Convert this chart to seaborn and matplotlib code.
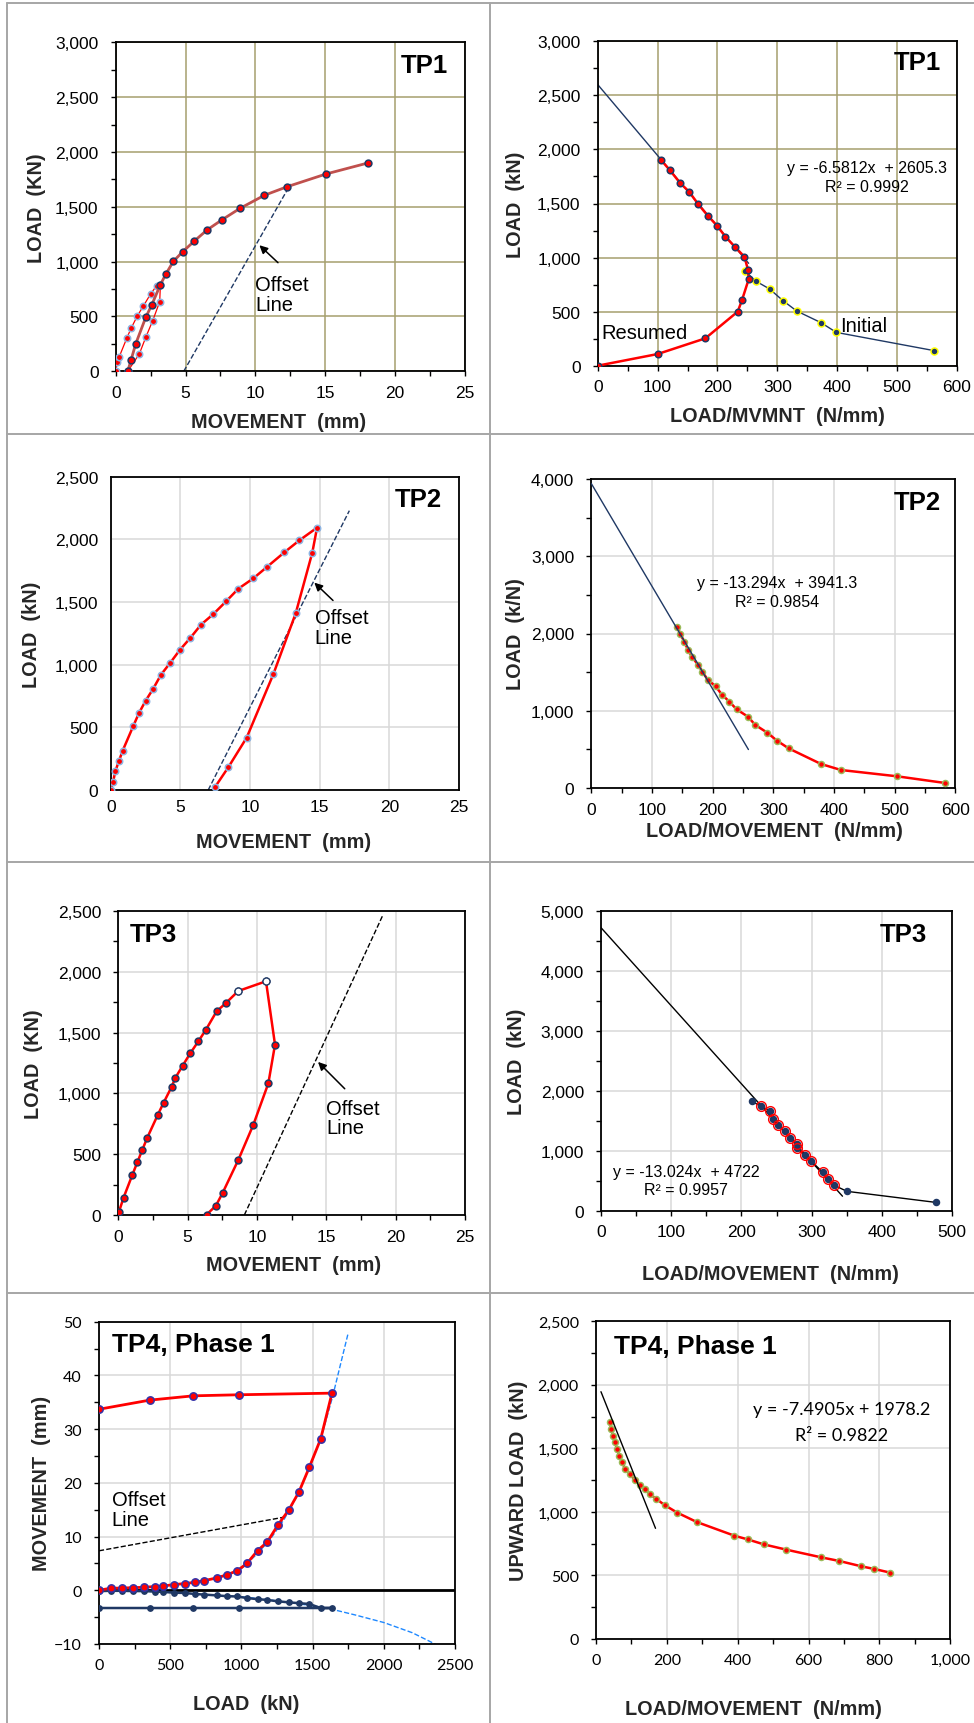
import matplotlib
matplotlib.use("Agg")
import matplotlib.pyplot as plt
import seaborn as sns
from matplotlib.lines import Line2D
from matplotlib.ticker import MultipleLocator, StrMethodFormatter

sns.set_theme(style="white")
plt.rcParams["font.family"] = ["Liberation Sans", "DejaVu Sans"]
plt.rcParams["text.color"] = "black"

# ---------------- data ----------------
# TP1, load vs movement
tp1_loop_mov = [0, 0.12, 0.24, 0.79, 1.1, 1.55, 1.98, 2.5, 2.93, 3.2, 3.15, 2.65, 2.17, 1.69, 0.86]
tp1_loop_load = [0, 82, 128, 301, 392, 505, 596, 705, 781, 790, 635, 462, 316, 158, 0]
tp1_main_mov = [0.86, 1.1, 1.43, 2.15, 2.58, 3.2, 3.58, 4.13, 4.8, 5.63, 6.54, 7.59, 8.9,
                10.64, 12.29, 15.05, 18.06]
tp1_main_load = [0, 103, 249, 492, 605, 790, 884, 1003, 1091, 1188, 1289, 1380, 1486,
                 1605, 1684, 1799, 1900]
tp1_offset_mov = [4.87, 12.52]
tp1_offset_load = [0, 1708]

# TP1, load vs load/movement
tp1_res_lm = [0, 100.2, 179.8, 233.8, 241, 252.1, 251, 244.9, 229.9, 213.2, 199.3, 183.7,
              168.1, 152.5, 138, 120.2, 105.7]
tp1_res_load = [0, 108, 253, 500, 607, 799, 888, 1008, 1095, 1193, 1295, 1388, 1492, 1610,
                1687, 1810, 1903]
tp1_ini_lm = [245.4, 263.8, 287.2, 309.5, 332.3, 372.9, 398.5, 562.1]
tp1_ini_load = [879, 783, 709, 601, 506, 398, 308, 139]
tp1_fit_lm = [0, 252]
tp1_fit_load = [2600, 947]

# TP2, load vs movement
tp2_mov = [0, 0.17, 0.33, 0.6, 0.86, 1.63, 2.03, 2.51, 3.04, 3.61, 4.28, 4.98, 5.69, 6.48,
           7.37, 8.28, 9.16, 10.24, 11.24, 12.46, 13.54, 14.81, 14.47, 13.28, 11.67, 9.76,
           8.44, 7.51]
tp2_load = [0, 64, 149, 234, 314, 513, 614, 713, 806, 920, 1016, 1120, 1210, 1319, 1404,
            1505, 1606, 1689, 1782, 1896, 1992, 2093, 1894, 1410, 923, 418, 181, 27]
tp2_offset_mov = [7.0, 17.13]
tp2_offset_load = [0, 2229]

# TP2, load vs load/movement
tp2_lm = [141.8, 146.7, 153.3, 159.3, 166.5, 175.8, 183, 191.8, 204.9, 215.4, 227.5, 239.6,
          258.2, 270.3, 290.1, 306, 325.3, 378.6, 411.5, 504.4, 583]
tp2_lm_load = [2088, 1993, 1894, 1791, 1691, 1597, 1506, 1402, 1316, 1208, 1118, 1018, 923,
               816, 716, 613, 513, 311, 233, 151, 65]
tp2_fit_lm = [0, 259]
tp2_fit_load = [3941, 498]

# TP3, load vs movement
tp3_mov = [0.05, 0.38, 1.01, 1.37, 1.73, 2.09, 2.84, 3.27, 3.85, 4.11, 4.64, 5.19, 5.77,
           6.32, 7.09, 7.76, 8.65, 10.65, 11.3, 10.82, 9.74, 8.65, 7.52, 7.04, 6.37]
tp3_load = [27, 143, 329, 433, 535, 636, 822, 924, 1055, 1127, 1228, 1330, 1428, 1524, 1675,
            1743, 1842, 1922, 1401, 1083, 743, 452, 181, 77, 3]
tp3_open_mov = [8.65, 10.65]
tp3_open_load = [1842, 1922]
tp3_offset_mov = [9.09, 19.06]
tp3_offset_load = [0, 2462]

# TP3, load vs load/movement
tp3_lm = [215.1, 227.9, 240.3, 244.5, 251.7, 261.6, 269.7, 279.7, 279.2, 290.6, 299.6, 316.2,
          322.9, 331.4, 350.4, 476.7]
tp3_lm_load = [1824, 1741, 1669, 1529, 1435, 1324, 1218, 1112, 1040, 929, 823, 640, 528, 428,
               323, 139]
tp3_ring_lm = tp3_lm[1:14]
tp3_ring_load = tp3_lm_load[1:14]
tp3_fit_lm = [0, 344]
tp3_fit_load = [4722, 242]

# TP4 phase 1, movement vs load
tp4_load = [0, 84, 159, 239, 316, 393, 452, 524, 602, 677, 740, 826, 901, 971, 1039, 1114,
            1182, 1255, 1334, 1404, 1477, 1557, 1636, 985, 662, 356, 0]
tp4_top_mov = [0, 0.4, 0.4, 0.5, 0.55, 0.7, 0.8, 1.05, 1.25, 1.5, 1.8, 2.3, 2.9, 3.65, 5.0,
               7.4, 9.0, 12.1, 15.0, 18.3, 22.9, 28.2, 36.7, 36.4, 36.2, 35.4, 33.7]
tp4_toe_mov = [-0.15, -0.1, -0.1, -0.15, -0.15, -0.25, -0.3, -0.45, -0.5, -0.7, -0.8, -0.95,
               -1.1, -1.15, -1.45, -1.65, -1.8, -2.05, -2.25, -2.4, -2.55, -3.3, -3.3, -3.3,
               -3.3, -3.3, -3.3]
tp4_up_fit_load = [900, 1000, 1100, 1200, 1300, 1400, 1480, 1560, 1640, 1700, 1751]
tp4_up_fit_mov = [2.8, 4.0, 6.5, 9.4, 13.2, 18.0, 23.0, 28.4, 36.0, 42.5, 48.0]
tp4_dn_fit_load = [800, 1000, 1200, 1400, 1600, 1800, 2000, 2200, 2390]
tp4_dn_fit_mov = [-0.9, -1.2, -1.8, -2.5, -3.3, -4.6, -6.0, -7.9, -10.4]
tp4_offset_load = [0, 1318]
tp4_offset_mov = [7.35, 13.7]

# TP4 phase 1, upward load vs load/movement
tp4_lm = [38.6, 43.3, 48, 53.6, 59.3, 65.9, 73.4, 82.8, 95, 109, 125, 137.3, 151.5, 170.3,
          194.7, 229.5, 284.1, 390.4, 428, 473.2, 537.2, 635, 686.7, 748.8, 785.5, 830.7]
tp4_lm_load = [1705, 1653, 1600, 1548, 1495, 1443, 1390, 1338, 1299, 1254, 1212, 1178, 1141,
               1102, 1052, 994, 921, 813, 784, 745, 703, 643, 614, 572, 551, 522]
tp4_fit_lm = [14, 168]
tp4_fit_load = [1946, 871]

# ---------------- layout ----------------
W, H = 974, 1724
fig = plt.figure(figsize=(W / 100, H / 100), dpi=100)
fig.patch.set_facecolor("white")

RED = "#FF0000"
NAVY = "#1F3864"
LBLUE = "#8DB4E2"
GREEN = "#9BBB59"
OLIVE = "#A69F6E"
LGRAY = "#D9D9D9"


def px_axes(l, t, r, b):
    return fig.add_axes([l / W, 1 - b / H, (r - l) / W, (b - t) / H])


def style(ax, xlim, ylim, xstep, xminor, ystep, yminor, grid, xcomma=False, ycomma=True,
          ticks=True, font=None, size=12.5):
    ax.set_xlim(*xlim)
    ax.set_ylim(*ylim)
    ax.xaxis.set_major_locator(MultipleLocator(xstep))
    ax.yaxis.set_major_locator(MultipleLocator(ystep))
    if xminor:
        ax.xaxis.set_minor_locator(MultipleLocator(xminor))
    if yminor:
        ax.yaxis.set_minor_locator(MultipleLocator(yminor))
    ax.xaxis.set_major_formatter(StrMethodFormatter("{x:,.0f}" if xcomma else "{x:.0f}"))
    ax.yaxis.set_major_formatter(StrMethodFormatter("{x:,.0f}" if ycomma else "{x:.0f}"))
    ax.grid(True, which="major", color=grid, lw=1.1)
    ax.set_axisbelow(True)
    for s in ax.spines.values():
        s.set_color("black")
        s.set_linewidth(1.3)
    ax.tick_params(which="both", direction="out", length=3.3 if ticks else 0, width=1,
                   color="black", bottom=True, left=True, labelcolor="black",
                   labelsize=size)
    ax.tick_params(axis="y", which="both", pad=9)
    ax.tick_params(axis="x", which="both", pad=6.5)
    if font:
        ax.tick_params(labelfontfamily=font)


def labels(ax, xl, yl, xpos, ypos):
    ax.set_xlabel(xl, fontsize=14.3, fontweight="bold")
    ax.set_ylabel(yl, fontsize=14.3, fontweight="bold")
    ax.xaxis.set_label_coords(*xpos)
    ax.yaxis.set_label_coords(*ypos)
    ax.xaxis.label.set_va("center")
    ax.yaxis.label.set_va("center")


def curve(ax, x, y, color, lw, mfc, mec, ms, marker="o", ls="-", zorder=3):
    sns.lineplot(x=x, y=y, ax=ax, sort=False, estimator=None, color=color, lw=lw,
                 marker=marker, markersize=ms, markerfacecolor=mfc, markeredgecolor=mec,
                 markeredgewidth=1.1, linestyle=ls, zorder=zorder)


def offset_note(ax, x, y, tail, tip):
    ax.text(x, y, "Offset\nLine", fontsize=14.5, ha="left", va="center", linespacing=1.05)
    if tail is not None:
        ax.annotate("", xy=tip, xytext=tail,
                    arrowprops=dict(arrowstyle="-|>", color="black", lw=1.1,
                                    mutation_scale=12))


# ---- TP1 left
ax = px_axes(115.7, 43.3, 465, 372.3)
style(ax, (0, 25), (0, 3000), 5, 2.5, 500, 250, OLIVE)
sns.lineplot(x=tp1_offset_mov, y=tp1_offset_load, ax=ax, color=NAVY, lw=1, linestyle="--",
             dashes=(6, 4))
curve(ax, tp1_loop_mov, tp1_loop_load, RED, 0.9, RED, LBLUE, 4.6)
curve(ax, tp1_main_mov, tp1_main_load, "#C0504D", 2.0, RED, NAVY, 4.9)
offset_note(ax, 10.0, 700, (11.76, 973), (10.14, 1167))
ax.text(22.1, 2796, "TP1", fontsize=18.5, fontweight="bold", ha="center", va="center")
labels(ax, "MOVEMENT  (mm)", "LOAD  (KN)", (0.467, -0.154), (-0.226, 0.5))

# ---- TP1 right
ax = px_axes(597.7, 42.3, 957, 366.7)
style(ax, (0, 600), (0, 3000), 100, 50, 500, 250, OLIVE)
sns.lineplot(x=tp1_fit_lm, y=tp1_fit_load, ax=ax, color=NAVY, lw=1)
curve(ax, tp1_ini_lm, tp1_ini_load, NAVY, 1, NAVY, "#FFFF00", 5.0)
curve(ax, tp1_res_lm, tp1_res_load, RED, 1.8, RED, NAVY, 4.7)
ax.text(450, 1829, "y = -6.5812x  + 2605.3", fontsize=11.5, ha="center", va="center")
ax.text(450, 1656, "R² = 0.9992", fontsize=11.5, ha="center", va="center")
ax.text(6, 308, "Resumed", fontsize=14.5, ha="left", va="center")
ax.text(405, 376, "Initial", fontsize=14.5, ha="left", va="center")
ax.text(533, 2806, "TP1", fontsize=18.5, fontweight="bold", ha="center", va="center")
labels(ax, "LOAD/MVMNT  (N/mm)", "LOAD  (kN)", (0.5, -0.154), (-0.23, 0.5))

# ---- TP2 left
ax = px_axes(110.7, 477.7, 459, 791)
style(ax, (0, 25), (0, 2500), 5, None, 500, None, LGRAY, ticks=False)
sns.lineplot(x=tp2_offset_mov, y=tp2_offset_load, ax=ax, color=NAVY, lw=1, linestyle="--",
             dashes=(6, 4))
curve(ax, tp2_mov, tp2_load, RED, 1.8, RED, LBLUE, 4.6)
offset_note(ax, 14.64, 1295, (16.1, 1497), (14.47, 1670))
ax.text(22.08, 2322, "TP2", fontsize=18.5, fontweight="bold", ha="center", va="center")
labels(ax, "MOVEMENT  (mm)", "LOAD  (kN)", (0.4976, -0.164), (-0.227, 0.5))

# ---- TP2 right
ax = px_axes(591.3, 480, 955.3, 789)
style(ax, (0, 600), (0, 4000), 100, 50, 1000, 500, LGRAY)
curve(ax, tp2_lm, tp2_lm_load, RED, 1.8, RED, GREEN, 4.3)
sns.lineplot(x=tp2_fit_lm, y=tp2_fit_load, ax=ax, color=NAVY, lw=1, zorder=4)
ax.text(307, 2654, "y = -13.294x  + 3941.3", fontsize=11.5, ha="center", va="center")
ax.text(307, 2412, "R² = 0.9854", fontsize=11.5, ha="center", va="center")
ax.text(536.8, 3707, "TP2", fontsize=18.5, fontweight="bold", ha="center", va="center")
labels(ax, "LOAD/MOVEMENT  (N/mm)", "LOAD  (k/N)", (0.502, -0.138), (-0.209, 0.5))

# ---- TP3 left
ax = px_axes(118.3, 912, 465, 1216)
style(ax, (0, 25), (0, 2500), 5, 2.5, 500, 250, LGRAY)
sns.lineplot(x=tp3_offset_mov, y=tp3_offset_load, ax=ax, color="black", lw=1,
             linestyle="--", dashes=(6, 4))
curve(ax, tp3_mov, tp3_load, RED, 1.8, RED, NAVY, 4.9)
ax.plot(tp3_open_mov, tp3_open_load, "o", ms=5.0, mfc="white", mec=NAVY, mew=0.9, zorder=5)
offset_note(ax, 14.98, 798, (16.47, 1022), (14.26, 1275))
ax.text(0.84, 2311, "TP3", fontsize=18.5, fontweight="bold", ha="left", va="center")
labels(ax, "MOVEMENT  (mm)", "LOAD  (KN)", (0.505, -0.164), (-0.245, 0.5))

# ---- TP3 right
ax = px_axes(601, 912, 952, 1211.7)
style(ax, (0, 500), (0, 5000), 100, 50, 1000, 500, LGRAY)
sns.lineplot(x=tp3_fit_lm, y=tp3_fit_load, ax=ax, color="black", lw=1)
curve(ax, tp3_lm, tp3_lm_load, "black", 1, NAVY, NAVY, 4.3)
ax.plot(tp3_ring_lm, tp3_ring_load, "o", ms=7.0, mfc="none", mec=RED, mew=1.0, zorder=5)
ax.text(121.6, 656, "y = -13.024x  + 4722", fontsize=11.5, ha="center", va="center")
ax.text(121.6, 350, "R² = 0.9957", fontsize=11.5, ha="center", va="center")
ax.text(431, 4616, "TP3", fontsize=18.5, fontweight="bold", ha="center", va="center")
labels(ax, "LOAD/MOVEMENT  (N/mm)", "LOAD  (kN)", (0.483, -0.209), (-0.241, 0.5))

# ---- TP4 left
ax = px_axes(99, 1322.7, 455, 1645)
style(ax, (0, 2500), (-10, 50), 500, 250, 10, 5, LGRAY, ycomma=False, font="Lato",
      size=11.5)
ax.axhline(0, color="black", lw=2, zorder=2)
sns.lineplot(x=tp4_offset_load, y=tp4_offset_mov, ax=ax, color="black", lw=1,
             linestyle="--", dashes=(6, 4))
sns.lineplot(x=tp4_up_fit_load, y=tp4_up_fit_mov, ax=ax, color="#1E88FF", lw=1,
             linestyle="--", dashes=(7, 4))
sns.lineplot(x=tp4_dn_fit_load, y=tp4_dn_fit_mov, ax=ax, color="#1E88FF", lw=1,
             linestyle="--", dashes=(7, 4))
curve(ax, tp4_load, tp4_toe_mov, NAVY, 1.8, NAVY, NAVY, 3.8)
curve(ax, tp4_load, tp4_top_mov, RED, 2.0, RED, "#3333AA", 5.3)
ax.text(89, 15.0, "Offset\nLine", fontsize=14.5, ha="left", va="center", linespacing=1.05)
ax.text(94, 45.8, "TP4, Phase 1", fontsize=19, fontweight="bold", ha="left", va="center")
labels(ax, "LOAD  (kN)", "MOVEMENT  (mm)", (0.413, -0.184), (-0.161, 0.5))

# ---- TP4 right
ax = px_axes(596, 1322.3, 950.3, 1640)
style(ax, (0, 1000), (0, 2500), 200, 100, 500, 250, LGRAY, xcomma=True, font="Lato",
      size=11.5)
curve(ax, tp4_lm, tp4_lm_load, RED, 1.8, RED, GREEN, 4.3)
sns.lineplot(x=tp4_fit_lm, y=tp4_fit_load, ax=ax, color="black", lw=1, zorder=4)
ax.text(694, 1810, "y = -7.4905x + 1978.2", fontsize=13, family="Lato", ha="center",
        va="center")
ax.text(694, 1608, "R² = 0.9822", fontsize=13, family="Lato", ha="center", va="center")
ax.text(49.9, 2303, "TP4, Phase 1", fontsize=19, fontweight="bold", ha="left",
        va="center")
labels(ax, "LOAD/MOVEMENT  (N/mm)", "UPWARD LOAD  (kN)", (0.443, -0.218), (-0.218, 0.5))

# legends seaborn may add are not wanted
for a in fig.axes:
    if a.get_legend():
        a.get_legend().remove()

# ---- cell borders
BORDER = "#A6A6A6"
for y in (4, 435, 863, 1294):
    fig.add_artist(Line2D([7 / W, 1], [1 - y / H, 1 - y / H], color=BORDER, lw=1.4))
for x in (7, 490):
    fig.add_artist(Line2D([x / W, x / W], [1 - 4 / H, 0], color=BORDER, lw=1.4))

fig.savefig("out.png", dpi=100)
